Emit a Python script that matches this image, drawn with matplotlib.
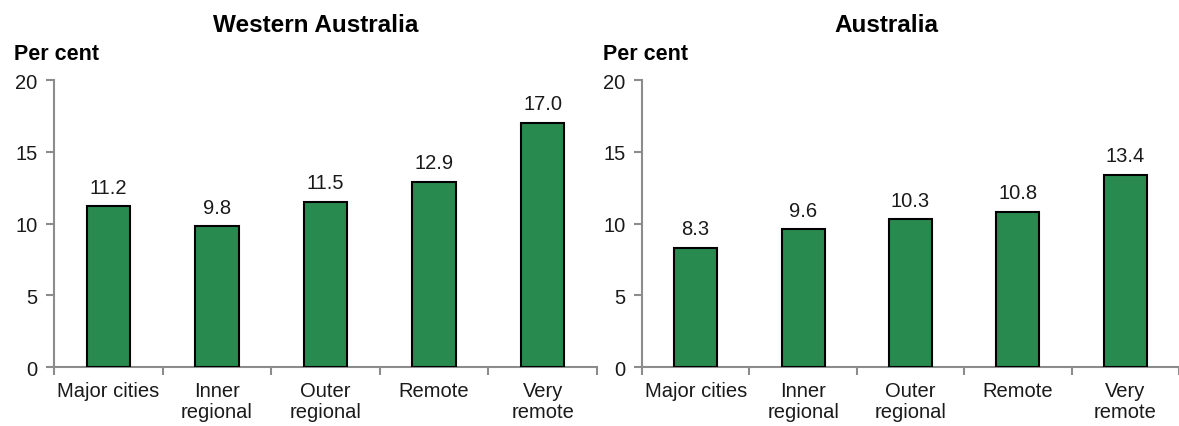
import matplotlib.pyplot as plt

# Data
categories = ['Major cities', 'Inner\nregional', 'Outer\nregional', 'Remote', 'Very\nremote']
wa_values = [11.2, 9.8, 11.5, 12.9, 17.0]
aus_values = [8.3, 9.6, 10.3, 10.8, 13.4]
titles = ['Western Australia', 'Australia']

plt.rcParams['font.family'] = ['Liberation Sans', 'DejaVu Sans']

fig = plt.figure(figsize=(11.79, 4.27), dpi=100)
ax1 = fig.add_axes([0.0458, 0.138, 0.4606, 0.672])
ax2 = fig.add_axes([0.5445, 0.138, 0.4555, 0.672])

bar_color = '#298A4F'
spine_color = '#8C8C8C'
text_color = '#1A1A1A'

for ax, vals, title, tx in [(ax1, wa_values, titles[0], 0.268), (ax2, aus_values, titles[1], 0.752)]:
    x = range(len(categories))
    ax.bar(x, vals, width=0.4, color=bar_color, edgecolor='black', linewidth=1.5, zorder=3)
    for xi, v in zip(x, vals):
        ax.annotate(f'{v:.1f}', (xi, v), xytext=(0, 7), textcoords='offset points',
                    ha='center', va='bottom', fontsize=14.5, color=text_color)
    ax.set_xlim(-0.5, len(categories) - 0.5)
    ax.set_ylim(0, 20)
    ax.set_yticks([0, 5, 10, 15, 20])
    ax.set_xticks(list(x))
    ax.set_xticklabels(categories, fontsize=14.5, color=text_color, linespacing=1.15)
    ax.set_xticks([i - 0.5 for i in range(len(categories) + 1)], minor=True)
    ax.tick_params(axis='x', which='major', length=0, pad=10)
    ax.tick_params(axis='x', which='minor', length=6, width=1.5, color=spine_color, direction='out')
    ax.tick_params(axis='y', length=6, width=1.5, color=spine_color, direction='out',
                   labelsize=14.5, labelcolor=text_color, pad=6)
    for s in ['top', 'right']:
        ax.spines[s].set_visible(False)
    for s in ['left', 'bottom']:
        ax.spines[s].set_color(spine_color)
        ax.spines[s].set_linewidth(1.5)
    fig.text(tx, 1 - 26 / 427, title, ha='center', va='center', fontsize=17.5, fontweight='bold')

fig.text(14 / 1179, 1 - 55 / 427, 'Per cent', ha='left', va='center', fontsize=15.5, fontweight='bold')
fig.text(603 / 1179, 1 - 55 / 427, 'Per cent', ha='left', va='center', fontsize=15.5, fontweight='bold')

fig.savefig('out.png', dpi=100)
